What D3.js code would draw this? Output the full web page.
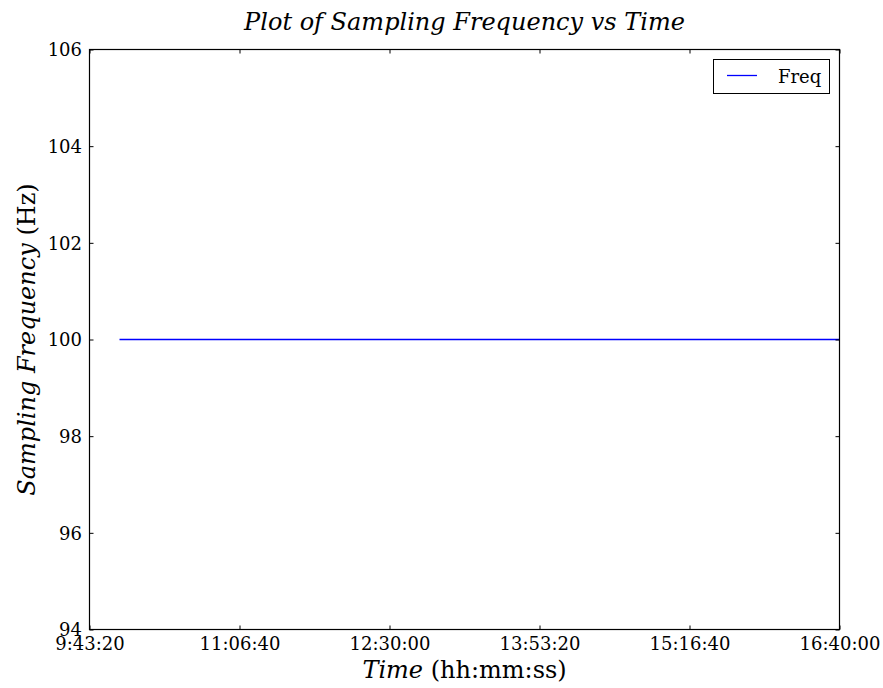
<!DOCTYPE html>
<html>
<head>
<meta charset="utf-8">
<script src="https://cdn.jsdelivr.net/npm/d3@7"></script>
<style>
  html, body { margin: 0; padding: 0; background: #fff; }
  svg { display: block; }
  text { font-family: "DejaVu Serif", serif; fill: #000; }
</style>
</head>
<body>
<svg id="chart" width="883" height="688"></svg>
<script>
// Logged sampling frequency readings (time of day, Hz)
const sampleTimes = ["10:00:00", "11:00:00", "12:00:00", "13:00:00", "14:00:00", "15:00:00", "16:00:00", "16:40:00"];
const freqValues  = [100, 100, 100, 100, 100, 100, 100, 100];

// Axis ranges and tick positions
const xTickLabels = ["9:43:20", "11:06:40", "12:30:00", "13:53:20", "15:16:40", "16:40:00"];
const yTicks = [94, 96, 98, 100, 102, 104, 106];
const yDomain = [94, 106];

const toSec = s => { const [h, m, sec] = s.split(":").map(Number); return h * 3600 + m * 60 + sec; };
const xTicks = xTickLabels.map(toSec);
const data = sampleTimes.map((t, i) => ({ t: toSec(t), v: freqValues[i] }));

const svg = d3.select("#chart");
const plotL = 89.5, plotR = 839.5, plotT = 49.5, plotB = 629.5;

const x = d3.scaleLinear().domain([xTicks[0], xTicks[xTicks.length - 1]]).range([plotL, plotR]);
const y = d3.scaleLinear().domain(yDomain).range([plotB, plotT]);

// clip to plot area
svg.append("clipPath").attr("id", "plotclip")
  .append("rect").attr("x", plotL).attr("y", plotT).attr("width", plotR - plotL).attr("height", plotB - plotT);

// data line
svg.append("path")
  .datum(data)
  .attr("clip-path", "url(#plotclip)")
  .attr("fill", "none")
  .attr("stroke", "#0000ff")
  .attr("stroke-width", 1.3)
  .attr("d", d3.line().x(d => x(d.t)).y(d => y(d.v)));

// axes with inward ticks on all four sides
const fmt = s => xTickLabels[xTicks.indexOf(s)];
const tickLen = 4;
const bottomAxis = svg.append("g").attr("transform", `translate(0,${plotB})`)
  .call(d3.axisBottom(x).tickValues(xTicks).tickFormat(fmt).tickSizeInner(-tickLen).tickSizeOuter(0).tickPadding(7.5));
const topAxis = svg.append("g").attr("transform", `translate(0,${plotT})`)
  .call(d3.axisTop(x).tickValues(xTicks).tickFormat("").tickSizeInner(-tickLen).tickSizeOuter(0));
const leftAxis = svg.append("g").attr("transform", `translate(${plotL},0)`)
  .call(d3.axisLeft(y).tickValues(yTicks).tickFormat(d3.format("d")).tickSizeInner(-tickLen).tickSizeOuter(0).tickPadding(7.5));
const rightAxis = svg.append("g").attr("transform", `translate(${plotR},0)`)
  .call(d3.axisRight(y).tickValues(yTicks).tickFormat("").tickSizeInner(-tickLen).tickSizeOuter(0));

[bottomAxis, topAxis, leftAxis, rightAxis].forEach(g => {
  g.select(".domain").remove();
  g.selectAll(".tick line").attr("stroke", "#000").attr("stroke-width", 1);
  g.selectAll(".tick text").attr("font-family", "DejaVu Serif").attr("font-size", 18).attr("fill", "#000");
});
bottomAxis.selectAll(".tick text").attr("dy", "0.73em");
leftAxis.selectAll(".tick text").attr("dy", "0.36em");

// frame
svg.append("rect")
  .attr("x", plotL).attr("y", plotT).attr("width", plotR - plotL).attr("height", plotB - plotT)
  .attr("fill", "none").attr("stroke", "#000").attr("stroke-width", 1.2);

// title
svg.append("text")
  .attr("x", (plotL + plotR) / 2).attr("y", 30)
  .attr("text-anchor", "middle")
  .attr("font-size", 24).attr("font-style", "italic")
  .text("Plot of Sampling Frequency vs Time");

// x axis label
const xl = svg.append("text")
  .attr("x", (plotL + plotR) / 2).attr("y", 678)
  .attr("text-anchor", "middle")
  .attr("font-size", 24);
xl.append("tspan").attr("font-style", "italic").text("Time");
xl.append("tspan").text(" (hh:mm:ss)");

// y axis label
const yl = svg.append("text")
  .attr("transform", `translate(35,${(plotT + plotB) / 2}) rotate(-90)`)
  .attr("text-anchor", "middle")
  .attr("font-size", 24);
yl.append("tspan").attr("font-style", "italic").text("Sampling Frequency");
yl.append("tspan").text(" (Hz)");

// legend
const lg = svg.append("g");
lg.append("rect").attr("x", 713.5).attr("y", 59.5).attr("width", 116).attr("height", 34)
  .attr("fill", "#fff").attr("stroke", "#000").attr("stroke-width", 1);
lg.append("line").attr("x1", 727).attr("x2", 757).attr("y1", 75.5).attr("y2", 75.5)
  .attr("stroke", "#0000ff").attr("stroke-width", 1.3);
lg.append("text").attr("x", 778).attr("y", 83).attr("font-size", 18).text("Freq");
</script>
</body>
</html>
